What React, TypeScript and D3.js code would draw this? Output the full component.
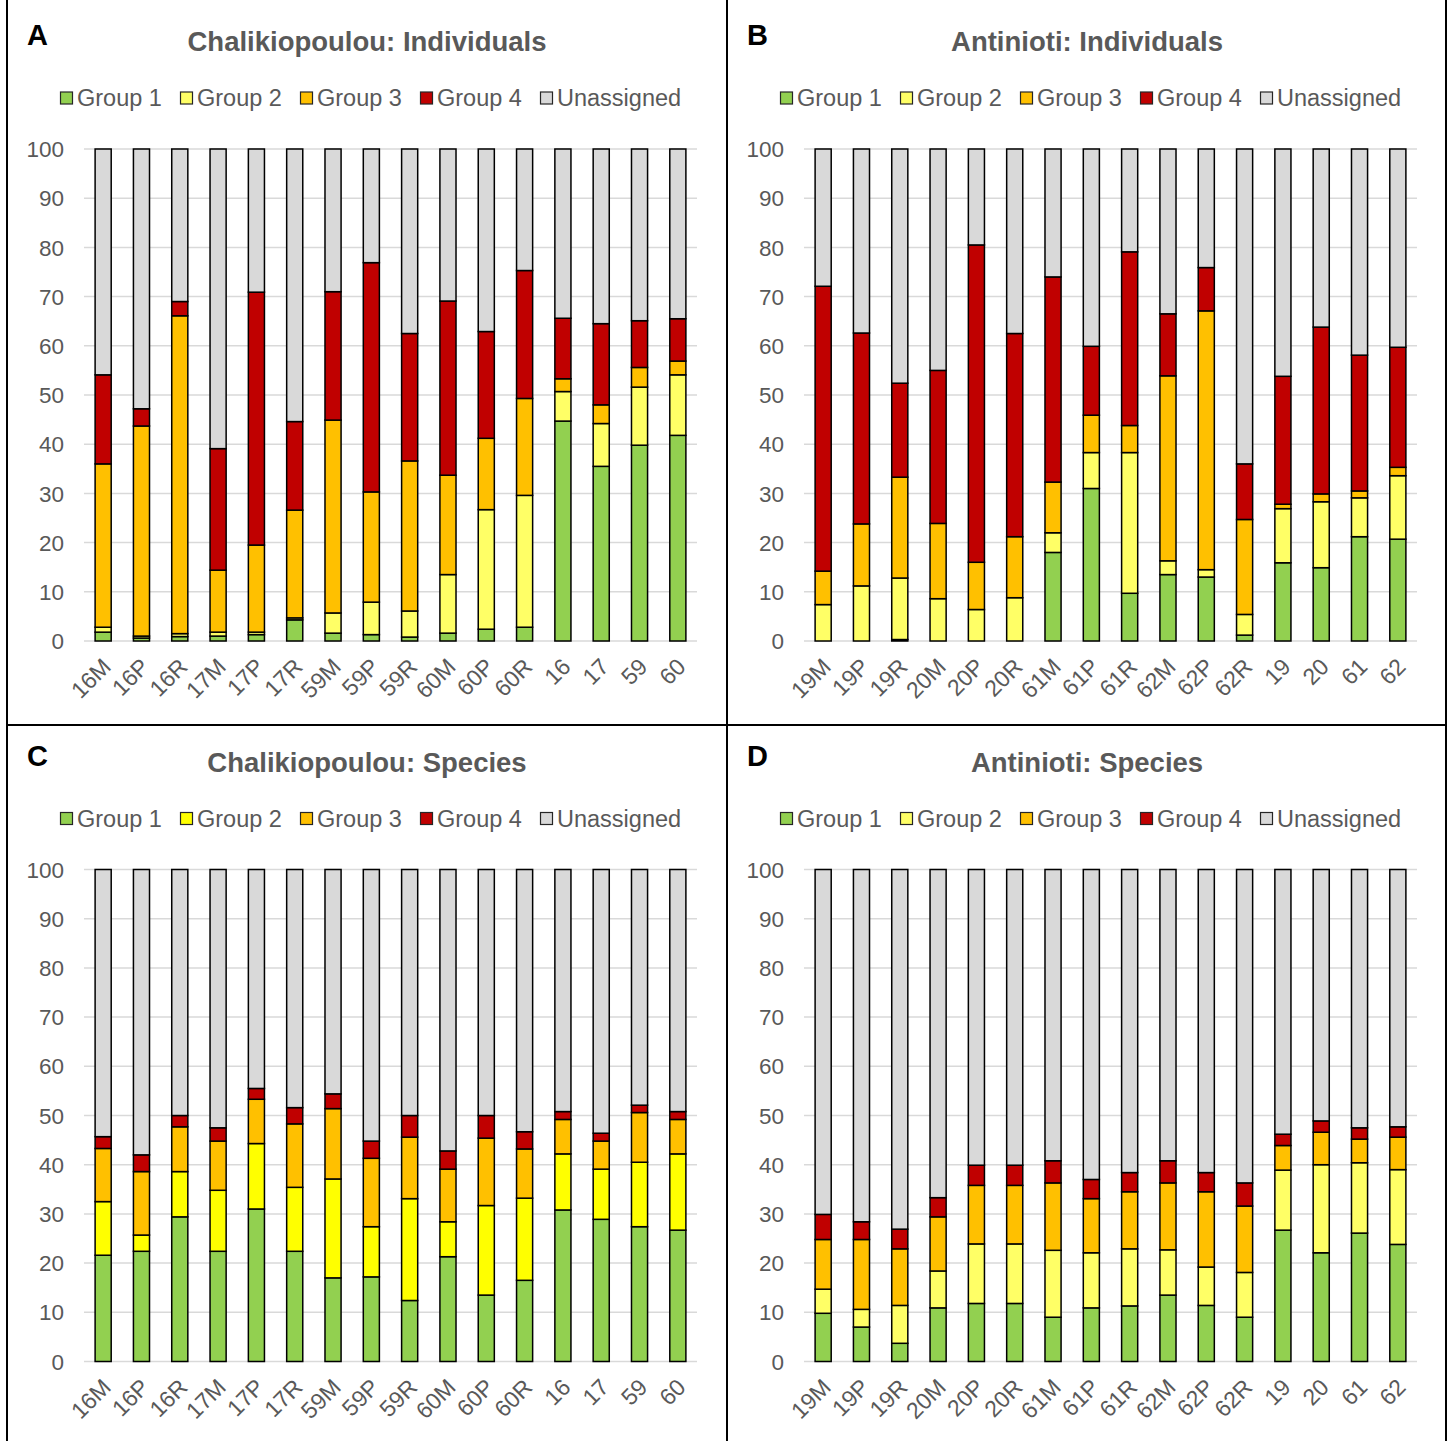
import React from "react";
import * as d3 from "d3";

// Sample labels
const chalCategories = ["16M", "16P", "16R", "17M", "17P", "17R", "59M", "59P", "59R", "60M", "60P", "60R", "16", "17", "59", "60"];
const antCategories = ["19M", "19P", "19R", "20M", "20P", "20R", "61M", "61P", "61R", "62M", "62P", "62R", "19", "20", "61", "62"];

const seriesNames = ["Group 1", "Group 2", "Group 3", "Group 4", "Unassigned"];
const yTicks = [0, 10, 20, 30, 40, 50, 60, 70, 80, 90, 100];

// Chalikiopoulou: Individuals (percent)
const chalIndG1 = [1.8, 0.6, 0.9, 1.0, 1.3, 4.3, 1.6, 1.3, 0.8, 1.6, 2.4, 2.8, 44.7, 35.5, 39.8, 41.8];
const chalIndG2 = [1.0, 0.4, 0.6, 0.8, 0.5, 0.4, 4.1, 6.6, 5.3, 11.9, 24.3, 26.8, 6.0, 8.7, 11.8, 12.3];
const chalIndG3 = [33.2, 42.7, 64.6, 12.6, 17.7, 21.9, 39.2, 22.4, 30.5, 20.2, 14.5, 19.7, 2.6, 3.8, 4.0, 2.8];
const chalIndG4 = [18.1, 3.5, 2.9, 24.7, 51.4, 18.0, 26.1, 46.6, 25.9, 35.4, 21.7, 26.0, 12.3, 16.5, 9.5, 8.6];
const chalIndUn = [45.9, 52.8, 31.0, 60.9, 29.1, 55.4, 29.0, 23.1, 37.5, 30.9, 37.1, 24.7, 34.4, 35.5, 34.9, 34.5];

// Antinioti: Individuals (percent)
const antIndG1 = [0, 0, 0.3, 0, 0, 0, 18.0, 31.0, 9.7, 13.5, 13.0, 1.2, 15.9, 14.9, 21.2, 20.7];
const antIndG2 = [7.4, 11.2, 12.5, 8.6, 6.4, 8.8, 4.0, 7.3, 28.6, 2.8, 1.5, 4.2, 11.0, 13.4, 7.9, 12.9];
const antIndG3 = [6.8, 12.6, 20.5, 15.3, 9.6, 12.4, 10.3, 7.6, 5.5, 37.6, 52.6, 19.3, 0.9, 1.6, 1.4, 1.7];
const antIndG4 = [57.9, 38.8, 19.1, 31.1, 64.5, 41.3, 41.7, 14.0, 35.3, 12.6, 8.8, 11.3, 26.0, 33.9, 27.6, 24.4];
const antIndUn = [27.9, 37.4, 47.6, 45.0, 19.5, 37.5, 26.0, 40.1, 20.9, 33.5, 24.1, 64.0, 46.2, 36.2, 41.9, 40.3];

// Chalikiopoulou: Species (percent)
const chalSpG1 = [21.6, 22.4, 29.4, 22.4, 31.0, 22.4, 17.0, 17.2, 12.4, 21.3, 13.5, 16.5, 30.8, 28.9, 27.4, 26.7];
const chalSpG2 = [10.9, 3.3, 9.2, 12.4, 13.3, 13.0, 20.1, 10.2, 20.7, 7.1, 18.2, 16.7, 11.4, 10.2, 13.1, 15.5];
const chalSpG3 = [10.8, 12.9, 9.1, 10.0, 9.0, 12.9, 14.3, 13.9, 12.5, 10.7, 13.7, 10.0, 7.0, 5.7, 10.1, 7.0];
const chalSpG4 = [2.4, 3.4, 2.3, 2.7, 2.2, 3.3, 3.0, 3.5, 4.4, 3.7, 4.6, 3.5, 1.6, 1.6, 1.5, 1.6];
const chalSpUn = [54.3, 58.0, 50.0, 52.5, 44.5, 48.4, 45.6, 55.2, 50.0, 57.2, 50.0, 53.3, 49.2, 53.6, 47.9, 49.2];

// Antinioti: Species (percent)
const antSpG1 = [9.8, 7.0, 3.7, 10.9, 11.8, 11.8, 9.0, 10.9, 11.3, 13.5, 11.4, 9.0, 26.7, 22.1, 26.1, 23.8];
const antSpG2 = [4.9, 3.6, 7.7, 7.5, 12.1, 12.1, 13.6, 11.2, 11.6, 9.2, 7.8, 9.1, 12.2, 17.9, 14.3, 15.2];
const antSpG3 = [10.1, 14.2, 11.5, 11.0, 11.9, 11.9, 13.7, 11.0, 11.6, 13.6, 15.3, 13.5, 5.0, 6.6, 4.8, 6.6];
const antSpG4 = [5.1, 3.6, 4.0, 3.9, 4.1, 4.1, 4.5, 3.9, 3.9, 4.5, 3.9, 4.7, 2.3, 2.3, 2.3, 2.1];
const antSpUn = [70.1, 71.6, 73.1, 66.7, 60.1, 60.1, 59.2, 63.0, 61.6, 59.2, 61.6, 63.7, 53.8, 51.1, 52.5, 52.3];

const paleColors = ["#92D050", "#FFFF66", "#FFC000", "#C00000", "#D9D9D9"];
const brightColors = ["#92D050", "#FFFF00", "#FFC000", "#C00000", "#D9D9D9"];

const FONT = "'Liberation Sans', Arial, sans-serif";
const TEXT_GRAY = "#595959";

type PanelProps = {
  x: number;
  y: number;
  letter: string;
  title: string;
  categories: string[];
  series: number[][];
  colors: string[];
};

function Panel({ x, y, letter, title, categories, series, colors }: PanelProps) {
  const plotLeft = 84;
  const plotRight = 697;
  const plotTop = 149;
  const plotBottom = 641;

  const xScale = d3.scaleBand<string>().domain(categories).range([plotLeft, plotRight]).paddingInner(0.58).paddingOuter(0.29);
  const yScale = d3.scaleLinear().domain([0, 100]).range([plotBottom, plotTop]);

  const rows = categories.map((c, i) => {
    const row: Record<string, any> = { cat: c };
    seriesNames.forEach((s, k) => (row[s] = series[k][i]));
    return row;
  });
  const stacked = d3.stack<Record<string, any>>().keys(seriesNames)(rows);

  const legendStartX = 60;
  const legendStep = 120;
  const legendY = 98;

  return (
    <g transform={`translate(${x},${y})`}>
      <text x={27} y={45} fontFamily={FONT} fontWeight="bold" fontSize={29} fill="#000">
        {letter}
      </text>
      <text x={367} y={51} textAnchor="middle" fontFamily={FONT} fontWeight="bold" fontSize={27.5} fill={TEXT_GRAY}>
        {title}
      </text>

      {seriesNames.map((s, k) => (
        <g key={s} transform={`translate(${legendStartX + k * legendStep},${legendY})`}>
          <rect x={0.5} y={-6} width={12} height={12} fill={colors[k]} stroke="#262626" strokeWidth={1.2} />
          <text x={17} y={0} dy="0.36em" fontFamily={FONT} fontSize={23.5} fill={TEXT_GRAY}>
            {s}
          </text>
        </g>
      ))}

      {yTicks.map((t) => (
        <g key={t}>
          <line x1={plotLeft} x2={plotRight} y1={yScale(t)} y2={yScale(t)} stroke="#D9D9D9" strokeWidth={1.5} />
          <text x={64} y={yScale(t)} dy="0.36em" textAnchor="end" fontFamily={FONT} fontSize={22.5} fill={TEXT_GRAY}>
            {t}
          </text>
        </g>
      ))}

      {stacked.map((layer, k) => (
        <g key={layer.key}>
          {layer.map((d, i) => {
            const h = yScale(d[0]) - yScale(d[1]);
            if (h <= 0) return null;
            return (
              <rect
                key={i}
                x={xScale(categories[i])!}
                y={yScale(d[1])}
                width={xScale.bandwidth()}
                height={h}
                fill={colors[k]}
                stroke="#000"
                strokeWidth={1.5}
              />
            );
          })}
        </g>
      ))}

      {categories.map((c) => {
        const cx = xScale(c)! + xScale.bandwidth() / 2;
        return (
          <text
            key={c}
            transform={`translate(${cx - 3},${plotBottom + 15}) rotate(-45)`}
            textAnchor="end"
            dy="0.75em"
            fontFamily={FONT}
            fontSize={23}
            fill={TEXT_GRAY}
          >
            {c}
          </text>
        );
      })}
    </g>
  );
}

export default function App() {
  return (
    <svg
      width={1450}
      height={1441}
      style={{ position: "absolute", left: 0, top: 0, background: "#fff" }}
    >
      <rect width={1450} height={1441} fill="#fff" />
      <Panel
        x={0}
        y={0}
        letter="A"
        title="Chalikiopoulou: Individuals"
        categories={chalCategories}
        series={[chalIndG1, chalIndG2, chalIndG3, chalIndG4, chalIndUn]}
        colors={paleColors}
      />
      <Panel
        x={720}
        y={0}
        letter="B"
        title="Antinioti: Individuals"
        categories={antCategories}
        series={[antIndG1, antIndG2, antIndG3, antIndG4, antIndUn]}
        colors={paleColors}
      />
      <Panel
        x={0}
        y={720.5}
        letter="C"
        title="Chalikiopoulou: Species"
        categories={chalCategories}
        series={[chalSpG1, chalSpG2, chalSpG3, chalSpG4, chalSpUn]}
        colors={brightColors}
      />
      <Panel
        x={720}
        y={720.5}
        letter="D"
        title="Antinioti: Species"
        categories={antCategories}
        series={[antSpG1, antSpG2, antSpG3, antSpG4, antSpUn]}
        colors={paleColors}
      />
      {/* panel frame lines */}
      <line x1={7} x2={7} y1={0} y2={1441} stroke="#000" strokeWidth={2} />
      <line x1={1446} x2={1446} y1={0} y2={1441} stroke="#000" strokeWidth={2} />
      <line x1={727} x2={727} y1={0} y2={1441} stroke="#000" strokeWidth={2} />
      <line x1={7} x2={1446} y1={725} y2={725} stroke="#000" strokeWidth={2} />
    </svg>
  );
}
